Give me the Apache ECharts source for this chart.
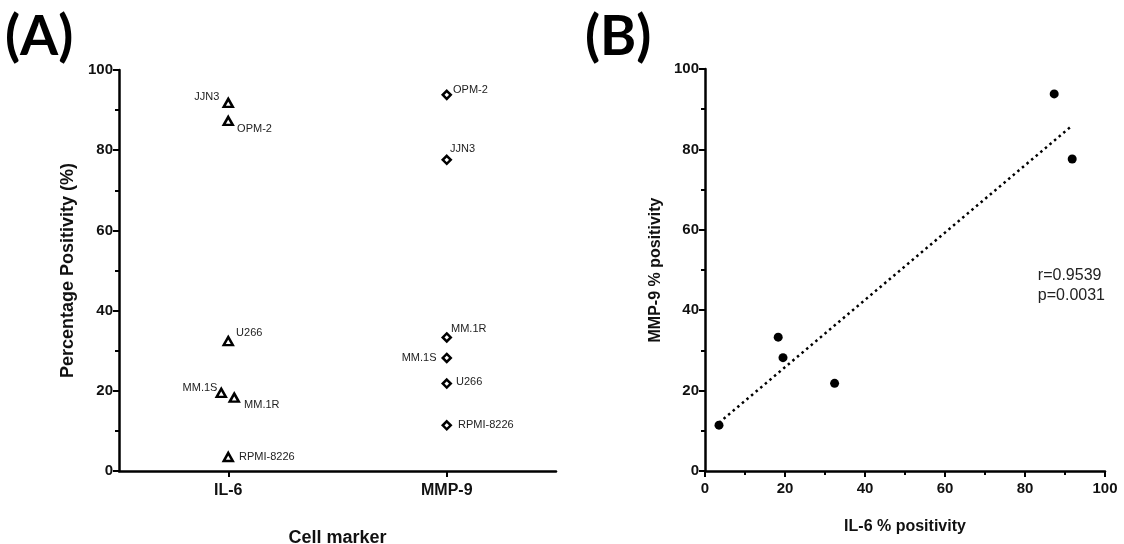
<!DOCTYPE html>
<html>
<head>
<meta charset="utf-8">
<script src="https://cdn.jsdelivr.net/npm/echarts@6/dist/echarts.min.js"></script>
<style>
  html, body { margin: 0; padding: 0; background: #fff; }
  #chart { width: 1124px; height: 544px; }
</style>
</head>
<body>
<div id="chart"></div>
<script>
// Cell lines and their marker positivity (%)
const cellLines = ['JJN3', 'OPM-2', 'U266', 'MM.1S', 'MM.1R', 'RPMI-8226'];
const il6Positivity = [91.8, 87.3, 32.4, 19.5, 18.3, 3.5];
const mmp9Positivity = [77.6, 93.8, 21.8, 28.2, 33.3, 11.4];
const markers = ['IL-6', 'MMP-9'];
const statsText = ['r=0.9539', 'p=0.0031'];

// Label placement per cell line (styling only)
const il6LabelStyle = {
  'JJN3':      { position: 'left',  offset: [2, -6] },
  'OPM-2':     { position: 'right', offset: [-2, 8] },
  'U266':      { position: 'right', offset: [-3, -8] },
  'MM.1S':     { position: 'left',  offset: [7, -5] },
  'MM.1R':     { position: 'right', offset: [-1, 7] },
  'RPMI-8226': { position: 'right', offset: [0, 0] }
};
const il6Jitter = { 'MM.1S': [-7, 0], 'MM.1R': [6, 0] };
const mmp9LabelStyle = {
  'JJN3':      { position: 'right', offset: [-7, -11] },
  'OPM-2':     { position: 'right', offset: [-4, -5] },
  'U266':      { position: 'right', offset: [-1, -2] },
  'MM.1S':     { position: 'left',  offset: [0, 0] },
  'MM.1R':     { position: 'right', offset: [-6, -8] },
  'RPMI-8226': { position: 'right', offset: [1, 0] }
};

// Least-squares fit of MMP-9 on IL-6
function linearFit(xs, ys) {
  const n = xs.length;
  const mx = xs.reduce((a, b) => a + b, 0) / n;
  const my = ys.reduce((a, b) => a + b, 0) / n;
  let sxy = 0, sxx = 0;
  for (let i = 0; i < n; i++) {
    sxy += (xs[i] - mx) * (ys[i] - my);
    sxx += (xs[i] - mx) * (xs[i] - mx);
  }
  const slope = sxy / sxx;
  return { slope, intercept: my - slope * mx };
}
const fit = linearFit(il6Positivity, mmp9Positivity);
const xMin = Math.min(...il6Positivity), xMax = Math.max(...il6Positivity);
const fitLine = [[xMin, fit.intercept + fit.slope * xMin], [xMax, fit.intercept + fit.slope * xMax]];

const FONT = '"Liberation Sans", Arial, sans-serif';
const axisLine = { show: true, lineStyle: { color: '#000', width: 2.5 } };
const axisTick = { show: true, inside: false, length: 6, lineStyle: { color: '#000', width: 2 } };
const minorTick = { show: true, splitNumber: 2, length: 4, lineStyle: { color: '#000', width: 2 } };
const tickLabel = { color: '#111', fontFamily: FONT, fontWeight: 'bold', fontSize: 15 };
const titleA = { color: '#111', fontFamily: FONT, fontWeight: 'bold', fontSize: 18 };
const titleB = { color: '#111', fontFamily: FONT, fontWeight: 'bold', fontSize: 16 };

const labelText = { fontFamily: FONT, fontSize: 11, color: '#222' };
const openMarker = { color: '#fff', borderColor: '#000', borderWidth: 2.5, opacity: 1 };

const il6Points = cellLines.map((name, i) => ({
  value: [markers[0], il6Positivity[i]],
  symbolOffset: il6Jitter[name] || [0, 0],
  label: Object.assign({ show: true, formatter: name, distance: 5 }, labelText, il6LabelStyle[name])
}));
const mmp9Points = cellLines.map((name, i) => ({
  value: [markers[1], mmp9Positivity[i]],
  label: Object.assign({ show: true, formatter: name, distance: 5 }, labelText, mmp9LabelStyle[name])
}));
const corrPoints = cellLines.map((name, i) => [il6Positivity[i], mmp9Positivity[i]]);

const chart = echarts.init(document.getElementById('chart'), null, { renderer: 'canvas' });
chart.setOption({
  animation: false,
  backgroundColor: '#fff',
  grid: [
    { left: 119, right: 568, top: 70, bottom: 73, outerBoundsMode: 'none', containLabel: false },
    { left: 705, right: 19, top: 69, bottom: 73, outerBoundsMode: 'none', containLabel: false }
  ],
  xAxis: [
    {
      gridIndex: 0, type: 'category', data: markers, boundaryGap: true,
      name: 'Cell marker', nameLocation: 'middle', nameGap: 58, nameTextStyle: titleA,
      axisLine, axisTick: Object.assign({}, axisTick, { alignWithLabel: true }),
      axisLabel: Object.assign({}, tickLabel, { fontSize: 16, margin: 12 }),
      splitLine: { show: false }
    },
    {
      gridIndex: 1, type: 'value', min: 0, max: 100, interval: 20,
      name: 'IL-6 % positivity', nameLocation: 'middle', nameGap: 48, nameTextStyle: titleB,
      axisLine, axisTick, minorTick, axisLabel: Object.assign({}, tickLabel, { margin: 10 }),
      splitLine: { show: false }, minorSplitLine: { show: false }
    }
  ],
  yAxis: [
    {
      gridIndex: 0, type: 'value', min: 0, max: 100, interval: 20,
      name: 'Percentage Positivity (%)', nameLocation: 'middle', nameGap: 42, nameTextStyle: titleA,
      axisLine, axisTick, minorTick, axisLabel: Object.assign({}, tickLabel, { margin: 6 }),
      splitLine: { show: false }, minorSplitLine: { show: false }
    },
    {
      gridIndex: 1, type: 'value', min: 0, max: 100, interval: 20,
      name: 'MMP-9 % positivity', nameLocation: 'middle', nameGap: 41, nameTextStyle: titleB,
      axisLine, axisTick, minorTick, axisLabel: Object.assign({}, tickLabel, { margin: 6 }),
      splitLine: { show: false }, minorSplitLine: { show: false }
    }
  ],
  series: [
    {
      name: 'IL-6', type: 'scatter', xAxisIndex: 0, yAxisIndex: 0,
      symbol: 'triangle', symbolSize: [9, 8],
      itemStyle: openMarker,
      data: il6Points
    },
    {
      name: 'MMP-9', type: 'scatter', xAxisIndex: 0, yAxisIndex: 0,
      symbol: 'diamond', symbolSize: [8, 8],
      itemStyle: openMarker,
      data: mmp9Points
    },
    {
      name: 'Fit', type: 'line', xAxisIndex: 1, yAxisIndex: 1,
      showSymbol: false, symbol: 'none',
      lineStyle: { color: '#000', width: 2.5, type: [2.5, 3.5], cap: 'butt' },
      data: fitLine, z: 1
    },
    {
      name: 'IL-6 vs MMP-9', type: 'scatter', xAxisIndex: 1, yAxisIndex: 1,
      symbol: 'circle', symbolSize: 9,
      itemStyle: { color: '#000', opacity: 1 },
      data: corrPoints, z: 3
    }
  ],
  graphic: [
    { type: 'text', left: 5, top: 10, style: { text: '(A)', fontFamily: 'Lato, "Open Sans", sans-serif', fontWeight: 'bold', fontSize: 55, fill: '#000' } },
    { type: 'text', left: 585, top: 10, style: { text: '(B)', fontFamily: 'Lato, "Open Sans", sans-serif', fontWeight: 'bold', fontSize: 55, fill: '#000' } },
    { type: 'text', right: 19, top: 266, style: { text: statsText.join('\n'), align: 'right', fontFamily: FONT, fontSize: 16, lineHeight: 20, fill: '#222' } }
  ]
});
</script>
</body>
</html>
